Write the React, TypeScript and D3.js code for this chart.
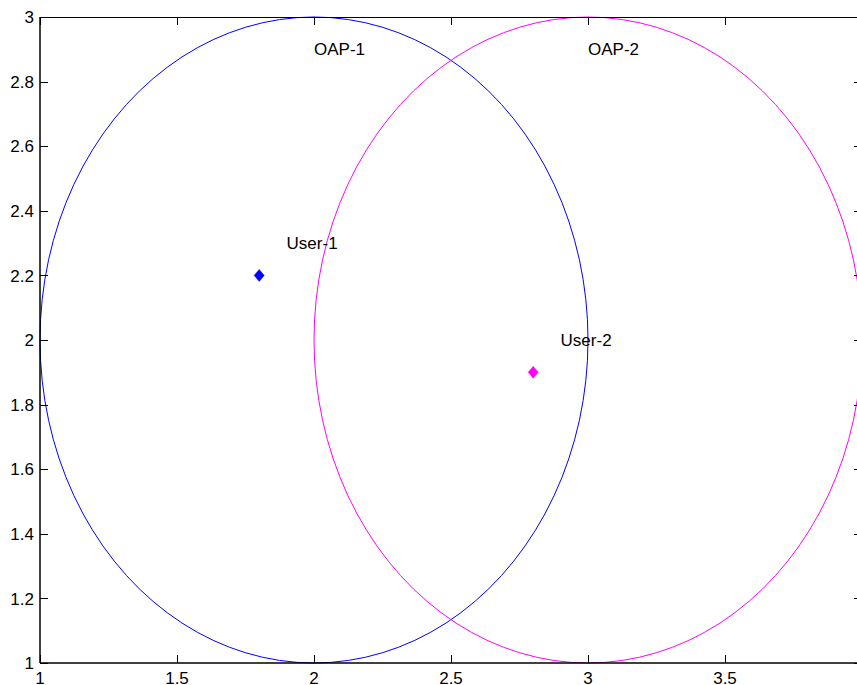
import React from "react";
import * as d3 from "d3";

// Coverage areas of the two access points (centre x, centre y, radius)
const apNames = ["OAP-1", "OAP-2"];
const apCenterX = [2, 3];
const apCenterY = [2, 2];
const apRadius = [1, 1];
const apColors = ["#0000ff", "#ff00ff"];
// Label anchor for each access point
const apLabelX = [2, 3];
const apLabelY = [2.9, 2.9];

// User positions and their labels
const userNames = ["User-1", "User-2"];
const userX = [1.8, 2.8];
const userY = [2.2, 1.9];
const userColors = ["#0000ff", "#ff00ff"];
const userLabelX = [1.9, 2.9];
const userLabelY = [2.3, 2.0];

// Axis ticks
const xTicks = [1, 1.5, 2, 2.5, 3, 3.5, 4];
const xTickLabels = ["1", "1.5", "2", "2.5", "3", "3.5", "4"];
const yTicks = [1, 1.2, 1.4, 1.6, 1.8, 2, 2.2, 2.4, 2.6, 2.8, 3];
const yTickLabels = ["1", "1.2", "1.4", "1.6", "1.8", "2", "2.2", "2.4", "2.6", "2.8", "3"];

const W = 857;
const H = 685;
const left = 40;
const right = 862;
const top = 17;
const bottom = 663;
const tickLen = 8;
const fontSize = 17;
const font = "'Liberation Sans', Arial, Helvetica, sans-serif";

export default function App() {
  const x = d3.scaleLinear().domain([1, 4]).range([left, right]);
  const y = d3.scaleLinear().domain([1, 3]).range([bottom, top]);

  // Polyline approximation of a circle in data space
  const angles = d3.range(0, 101).map((i) => (i / 100) * 2 * Math.PI);
  const circlePath = (cx: number, cy: number, r: number) =>
    d3
      .line<number>()
      .x((t) => x(cx + r * Math.cos(t)))
      .y((t) => y(cy + r * Math.sin(t)))(angles) || "";

  const diamond = (px: number, py: number) =>
    `M${px},${py - 6}L${px + 5},${py}L${px},${py + 6}L${px - 5},${py}Z`;

  return (
    <svg
      width={W}
      height={H}
      style={{ position: "absolute", left: 0, top: 0, background: "#fff" }}
      fontFamily={font}
    >
      <rect x={0} y={0} width={W} height={H} fill="#fff" />
      <defs>
        <clipPath id="plot-area">
          <rect x={left - 1} y={top - 1} width={right - left + 2} height={bottom - top + 2} />
        </clipPath>
      </defs>

      {/* coverage circles */}
      <g clipPath="url(#plot-area)">
        {apNames.map((n, i) => (
          <path
            key={n}
            d={circlePath(apCenterX[i], apCenterY[i], apRadius[i])}
            fill="none"
            stroke={apColors[i]}
            strokeWidth={1}
          />
        ))}
      </g>

      {/* ticks */}
      <g stroke="#000" strokeWidth={1}>
        {xTicks.map((t) => (
          <g key={"xt" + t}>
            <line x1={Math.round(x(t)) + 0.5} x2={Math.round(x(t)) + 0.5} y1={bottom} y2={bottom - tickLen} />
            <line x1={Math.round(x(t)) + 0.5} x2={Math.round(x(t)) + 0.5} y1={top} y2={top + tickLen} />
          </g>
        ))}
        {yTicks.map((t) => (
          <g key={"yt" + t}>
            <line x1={left} x2={left + tickLen} y1={Math.round(y(t)) + 0.5} y2={Math.round(y(t)) + 0.5} />
            <line x1={right} x2={right - tickLen} y1={Math.round(y(t)) + 0.5} y2={Math.round(y(t)) + 0.5} />
          </g>
        ))}
      </g>

      {/* axes box */}
      <line x1={left} x2={right} y1={top + 0.5} y2={top + 0.5} stroke="#000" strokeWidth={1} />
      <line x1={left} x2={right} y1={bottom} y2={bottom} stroke="#000" strokeWidth={1.5} />
      <line x1={left} x2={left} y1={top} y2={bottom} stroke="#000" strokeWidth={1.5} />
      <line x1={right} x2={right} y1={top} y2={bottom} stroke="#000" strokeWidth={1} />

      {/* tick labels */}
      <g fontSize={fontSize} fill="#000">
        {xTicks.map((t, i) => (
          <text key={"xl" + t} x={x(t)} y={bottom + 21} textAnchor="middle">
            {xTickLabels[i]}
          </text>
        ))}
        {yTicks.map((t, i) => (
          <text key={"yl" + t} x={left - 6} y={y(t)} dy="0.36em" textAnchor="end">
            {yTickLabels[i]}
          </text>
        ))}
      </g>

      {/* user markers */}
      {userNames.map((n, i) => (
        <path key={n} d={diamond(x(userX[i]), y(userY[i]))} fill={userColors[i]} stroke={userColors[i]} strokeWidth={0.5} />
      ))}

      {/* annotations */}
      <g fontSize={fontSize} fill="#000">
        {apNames.map((n, i) => (
          <text key={"al" + n} x={x(apLabelX[i])} y={y(apLabelY[i])} dy="0.36em">
            {n}
          </text>
        ))}
        {userNames.map((n, i) => (
          <text key={"ul" + n} x={x(userLabelX[i])} y={y(userLabelY[i])} dy="0.36em">
            {n}
          </text>
        ))}
      </g>
    </svg>
  );
}
